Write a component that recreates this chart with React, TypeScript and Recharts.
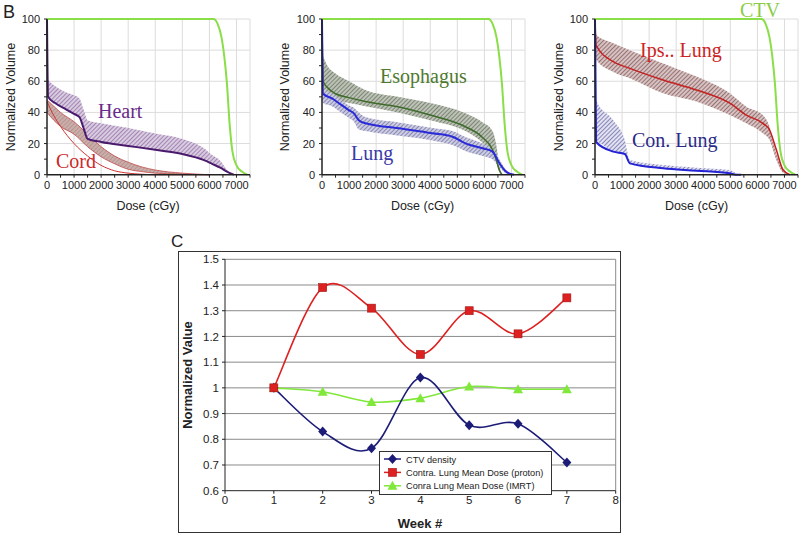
import React from 'react';
import {
  ComposedChart, LineChart, Line, Area, XAxis, YAxis, CartesianGrid,
} from 'recharts';

// ---- panel B data (dose in cGy, volume in %) ----
const ctvDose = [0, 6150, 6300, 6450, 6550, 6650, 6750, 6850, 7000, 7200, 7400];
const ctvVolume = [100, 100, 97, 88, 76, 58, 32, 15, 6, 2, 0];

const heartDose = [0, 40, 300, 700, 1000, 1200, 1350, 1500, 2000, 3000, 4000, 5000, 5800, 6100, 6400, 6700, 6900];
const heartMedian = [100, 50, 46, 42, 39, 37, 30, 23, 21, 18.5, 16, 13.3, 9.4, 7, 4.5, 1.5, 0];
const heartUpper = [62, 61, 57, 53, 51, 49, 42, 35, 33, 30, 26.5, 23, 17, 12.6, 9, 2, 0];
const heartLower = [50, 50, 46, 42, 39, 37, 30, 23, 21, 18.5, 16, 13.3, 9.4, 7, 4.5, 1.5, 0];

const cordDose = [0, 250, 500, 1000, 1500, 2000, 2500, 3000, 3500, 4000, 5000, 6000];
const cordUpper = [48, 44, 40, 34, 26, 18, 12, 8, 5, 3, 1, 0];
const cordLower = [40, 35, 31, 26, 18, 11.5, 7, 3.5, 2, 1, 0.3, 0];
const cordLine = [47, 38, 31, 20, 12, 6, 2.5, 1, 0.3, 0, 0, 0];

const esoDose = [0, 40, 200, 500, 1000, 1600, 2800, 4000, 5300, 5900, 6300, 6450, 6550, 6650];
const esoMedian = [100, 60, 56, 52, 49.5, 47, 43.7, 38.3, 30.8, 24.4, 16, 9, 3, 0];
const esoUpper = [78, 76, 70, 65, 60, 54.4, 50, 46, 39.4, 34, 28, 18, 6, 0];
const esoLower = [54, 54, 51, 48, 46, 44, 40, 35, 28, 21, 13, 7, 2, 0];

const lungDose = [0, 40, 370, 700, 990, 1180, 1360, 1610, 2840, 4080, 4820, 5320, 5930, 6300, 6550, 6800, 7100];
const lungMedian = [100, 52, 49, 45, 41.5, 39.4, 35, 33, 29.8, 26.6, 24.4, 20, 17, 14.8, 7.5, 2, 0];
const lungUpper = [58, 56, 52, 48, 44.5, 43, 40, 37, 33.5, 30, 28, 24, 20, 17, 10, 3, 0];
const lungLower = [48, 46, 44, 40, 36.5, 34, 29, 28, 25, 22, 19, 15, 12, 10, 5, 1, 0];

const ipsDose = [0, 40, 675, 1290, 2520, 3750, 4980, 5590, 6200, 6450, 6700, 6950, 7200];
const ipsMedian = [100, 83, 72.6, 68.3, 60.8, 54.4, 45.9, 38.3, 33, 28.7, 16, 3, 0];
const ipsUpper = [91, 90, 84.4, 80, 71.5, 63, 52.3, 43.7, 38.3, 30.8, 13.8, 4, 0];
const ipsLower = [75, 74, 66, 62, 52.3, 47, 38.3, 33, 26.6, 22.3, 9.4, 1.3, 0];

const conDose = [0, 40, 675, 1100, 1290, 2520, 3750, 4980, 5200, 5400];
const conMedian = [100, 21, 14.8, 13.3, 7.3, 4.1, 2.6, 0.9, 0, 0];
const conUpper = [50, 48, 35, 22.3, 9.4, 6.2, 4.5, 3, 1, 0];
const conLower = [21, 21, 14.8, 13.3, 7.3, 4.1, 2.6, 0.9, 0, 0];

const doseTicks = [0, 500, 1000, 1500, 2000, 2500, 3000, 3500, 4000, 4500, 5000, 5500, 6000, 6500, 7000, 7500];
const volumeTicks = [0, 10, 20, 30, 40, 50, 60, 70, 80, 90, 100];

// ---- panel C data ----
const weeks = [1, 2, 3, 4, 5, 6, 7];
const ctvDensity = [1, 0.83, 0.765, 1.04, 0.855, 0.86, 0.71];
const protonDose = [1, 1.39, 1.31, 1.13, 1.3, 1.21, 1.35];
const imrtDose = [1, 0.985, 0.945, 0.96, 1.005, 0.995, 0.995];
const weekTicks = [0, 1, 2, 3, 4, 5, 6, 7, 8];
const valueTicks = [0.6, 0.7, 0.8, 0.9, 1.0, 1.1, 1.2, 1.3, 1.4, 1.5];

const SANS = '"Liberation Sans", Arial, sans-serif';
const SERIF = '"Liberation Serif", "Times New Roman", serif';

const line = (dose: number[], v: number[]) => dose.map((d, i) => ({ dose: d, v: v[i] }));
const band = (dose: number[], lo: number[], hi: number[]) =>
  dose.map((d, i) => ({ dose: d, range: [lo[i], hi[i]] }));

const weekData = weeks.map((w, i) => ({
  week: w, ctv: ctvDensity[i], proton: protonDose[i], imrt: imrtDose[i],
}));

// Excel-like smoothing (Catmull-Rom through the points)
const smooth: any = (context: any) => {
  let pts: number[][] = [];
  return {
    areaStart() {}, areaEnd() {},
    lineStart() { pts = []; },
    point(x: number, y: number) { pts.push([+x, +y]); },
    lineEnd() {
      if (!pts.length) return;
      context.moveTo(pts[0][0], pts[0][1]);
      for (let i = 0; i < pts.length - 1; i++) {
        const p0 = pts[i - 1] || pts[i];
        const p1 = pts[i];
        const p2 = pts[i + 1];
        const p3 = pts[i + 2] || p2;
        context.bezierCurveTo(
          p1[0] + (p2[0] - p0[0]) / 6, p1[1] + (p2[1] - p0[1]) / 6,
          p2[0] - (p3[0] - p1[0]) / 6, p2[1] - (p3[1] - p1[1]) / 6,
          p2[0], p2[1],
        );
      }
    },
  };
};

const volTick = (p: any) =>
  p.payload.value % 20 === 0 ? (
    <text x={p.x} y={p.y} dy={4} textAnchor="end" fontSize={11} fontFamily={SANS} fill="#222">
      {p.payload.value}
    </text>
  ) : <g />;

const doseTick = (p: any) =>
  p.payload.value % 1000 === 0 ? (
    <text x={p.x} y={p.y} dy={9} textAnchor="middle" fontSize={11} fontFamily={SANS} fill="#222">
      {p.payload.value}
    </text>
  ) : <g />;

const Diamond = ({ cx, cy }: any) => (
  <polygon points={`${cx},${cy - 5} ${cx + 4.5},${cy} ${cx},${cy + 5} ${cx - 4.5},${cy}`} fill="#1c1c78" />
);
const Square = ({ cx, cy }: any) => (
  <rect x={cx - 4} y={cy - 4} width={8} height={8} fill="#dd2020" stroke="#a01818" strokeWidth={0.6} />
);
const Triangle = ({ cx, cy }: any) => (
  <polygon points={`${cx},${cy - 5} ${cx + 5},${cy + 4} ${cx - 5},${cy + 4}`} fill="#7fe83a" />
);

const DvhPanel = ({ left, children }: { left: number; children: React.ReactNode }) => (
  <div style={{ position: 'absolute', left, top: 0 }}>
    <ComposedChart width={250} height={215} margin={{ top: 19, right: 2, bottom: 16.3, left: 0 }}>
      <CartesianGrid
        stroke="#dcdcdc"
        horizontalValues={[20, 40, 60, 80, 100]}
        verticalValues={[1000, 2000, 3000, 4000, 5000, 6000, 7000, 7500]}
      />
      <XAxis
        dataKey="dose" type="number" domain={[0, 7500]} ticks={doseTicks} interval={0}
        height={24} tickSize={3} tickMargin={2} tick={doseTick}
        axisLine={{ stroke: '#222', strokeWidth: 1.5 }} tickLine={{ stroke: '#222' }}
      />
      <YAxis
        type="number" domain={[0, 100]} ticks={volumeTicks} interval={0}
        width={45} tickSize={3} tickMargin={4} tick={volTick}
        axisLine={{ stroke: '#222', strokeWidth: 1.5 }} tickLine={{ stroke: '#222' }}
      />
      {children}
    </ComposedChart>
  </div>
);

const rangeArea = (key: string, data: any[], pattern: string, stroke = 'none', sw = 0) => (
  <Area
    key={key} data={data} dataKey="range" type="monotone" fill={`url(#${pattern})`}
    fillOpacity={1} stroke={stroke} strokeWidth={sw} isAnimationActive={false} dot={false} activeDot={false}
  />
);
const curve = (key: string, data: any[], color: string, width: number) => (
  <Line
    key={key} data={data} dataKey="v" type="monotone" stroke={color} strokeWidth={width}
    dot={false} activeDot={false} isAnimationActive={false}
  />
);

const legendItems = [
  { label: 'CTV density', color: '#1c1c78', Marker: Diamond },
  { label: 'Contra. Lung Mean Dose (proton)', color: '#dd2020', Marker: Square },
  { label: 'Conra Lung Mean Dose (IMRT)', color: '#7fe83a', Marker: Triangle },
];

const WeekLegend = () => (
  <div style={{ position: 'absolute', left: 379, top: 451, width: 173, height: 44, border: '1px solid #333', background: '#fff', boxSizing: 'border-box' }}>
    <svg width={171} height={42} style={{ display: 'block' }}>
      {legendItems.map((it, i) => {
        const y = 7 + i * 13.4;
        return (
          <g key={it.label}>
            <line x1={4} x2={21} y1={y} y2={y} stroke={it.color} strokeWidth={1.5} />
            <it.Marker cx={12.5} cy={y} />
            <text x={26} y={y + 3.5} fontSize={9.2} fontFamily={SANS} fill="#222">{it.label}</text>
          </g>
        );
      })}
    </svg>
  </div>
);

const hatch = (id: string, bg: string, fg: string) => (
  <pattern key={id} id={id} patternUnits="userSpaceOnUse" width={3} height={3} patternTransform="rotate(45)">
    <rect width={3} height={3} fill={bg} />
    <line x1={0} y1={0} x2={0} y2={3} stroke={fg} strokeWidth={1.3} />
  </pattern>
);

export default function App() {
  const ctv = line(ctvDose, ctvVolume);
  return (
    <div style={{ position: 'absolute', left: 0, top: 0, width: 800, height: 535, background: '#fff', overflow: 'hidden' }}>
      <svg width={0} height={0} style={{ position: 'absolute' }}>
        <defs>
          {hatch('heartHatch', '#d8cce0', '#8a5c9c')}
          {hatch('cordHatch', '#cbaeaa', '#aa8884')}
          {hatch('esoHatch', '#bcc2b6', '#5a6652')}
          {hatch('lungHatch', '#cccce2', '#66669a')}
          {hatch('ipsHatch', '#d6c2c2', '#784848')}
          {hatch('conHatch', '#e2e2f2', '#565698')}
        </defs>
      </svg>

      <DvhPanel left={1.7}>
        {rangeArea('cordBand', band(cordDose, cordLower, cordUpper), 'cordHatch', '#c04848', 0.8)}
        {curve('cordLine', line(cordDose, cordLine), '#cc3333', 1)}
        {rangeArea('heartBand', band(heartDose, heartLower, heartUpper), 'heartHatch')}
        {curve('heartMedian', line(heartDose, heartMedian), '#4a1a6c', 2)}
        {curve('ctv', ctv, '#8ade48', 2)}
      </DvhPanel>

      <DvhPanel left={276.7}>
        {rangeArea('esoBand', band(esoDose, esoLower, esoUpper), 'esoHatch')}
        {curve('esoMedian', line(esoDose, esoMedian), '#3e6a2c', 1.5)}
        {rangeArea('lungBand', band(lungDose, lungLower, lungUpper), 'lungHatch')}
        {curve('lungMedian', line(lungDose, lungMedian), '#2a2ad8', 2)}
        {curve('ctv', ctv, '#8ade48', 2)}
      </DvhPanel>

      <DvhPanel left={550}>
        {rangeArea('ipsBand', band(ipsDose, ipsLower, ipsUpper), 'ipsHatch')}
        {curve('ipsMedian', line(ipsDose, ipsMedian), '#c42020', 1.5)}
        {rangeArea('conBand', band(conDose, conLower, conUpper), 'conHatch')}
        {curve('conMedian', line(conDose, conMedian), '#2424d4', 2)}
        {curve('ctv', ctv, '#8ade48', 2)}
      </DvhPanel>

      <div style={{ position: 'absolute', left: 178, top: 251, width: 443, height: 282, border: '1px solid #333', boxSizing: 'border-box' }} />
      <div style={{ position: 'absolute', left: 178, top: 251 }}>
        <LineChart width={443} height={282} data={weekData} margin={{ top: 8.3, right: 5.3, bottom: 0, left: 0 }}>
          <CartesianGrid stroke="#8a8a8a" horizontalValues={valueTicks.slice(1)} verticalValues={[8]} />
          <XAxis
            dataKey="week" type="number" domain={[0, 8]} ticks={weekTicks} interval={0} height={42.3}
            tickSize={3} tickMargin={2} tick={{ fontSize: 11.5, fontFamily: SANS, fill: '#222' }}
            axisLine={{ stroke: '#222' }} tickLine={{ stroke: '#222' }}
          />
          <YAxis
            type="number" domain={[0.6, 1.5]} ticks={valueTicks} interval={0} width={47}
            tickSize={3} tickMargin={3} tickFormatter={(v: number) => String(Number(v.toFixed(1)))}
            tick={{ fontSize: 11.5, fontFamily: SANS, fill: '#222' }}
            axisLine={{ stroke: '#222' }} tickLine={{ stroke: '#222' }}
          />
          <Line dataKey="imrt" type={smooth} stroke="#7fe83a" strokeWidth={1.6} isAnimationActive={false}
            dot={(p: any) => <Triangle key={`t${p.index}`} cx={p.cx} cy={p.cy} />} activeDot={false} />
          <Line dataKey="ctv" type={smooth} stroke="#1c1c78" strokeWidth={1.6} isAnimationActive={false}
            dot={(p: any) => <Diamond key={`d${p.index}`} cx={p.cx} cy={p.cy} />} activeDot={false} />
          <Line dataKey="proton" type={smooth} stroke="#dd2020" strokeWidth={1.6} isAnimationActive={false}
            dot={(p: any) => <Square key={`s${p.index}`} cx={p.cx} cy={p.cy} />} activeDot={false} />
        </LineChart>
      </div>
      <WeekLegend />

      <svg width={800} height={535} style={{ position: 'absolute', left: 0, top: 0, pointerEvents: 'none' }}>
        <text x={3} y={18} fontSize={18} fontFamily={SANS} fill="#222">B</text>
        <text x={171} y={247} fontSize={17} fontFamily={SANS} fill="#222">C</text>

        {[11, 285, 559].map((x) => (
          <text key={`yl${x}`} x={x} y={97} transform={`rotate(-90 ${x} 97)`} textAnchor="middle"
            dominantBaseline="central" fontSize={12.5} fontFamily={SANS} fill="#222">Normalized Volume</text>
        ))}
        {[148, 422.5, 696.5].map((x) => (
          <text key={`xl${x}`} x={x} y={210} textAnchor="middle" fontSize={12.5} fontFamily={SANS} fill="#222">Dose (cGy)</text>
        ))}

        <text x={98} y={118} fontSize={20} fontFamily={SERIF} fill="#6a2a8a">Heart</text>
        <text x={56} y={168} fontSize={20} fontFamily={SERIF} fill="#cc2a2a">Cord</text>
        <text x={380} y={83} fontSize={20} fontFamily={SERIF} fill="#4e7a30">Esophagus</text>
        <text x={351} y={160} fontSize={20} fontFamily={SERIF} fill="#3a3aa8">Lung</text>
        <text x={740} y={17} fontSize={20} fontFamily={SERIF} fill="#8acc48">CTV</text>
        <text x={640} y={57} fontSize={20} fontFamily={SERIF} fill="#cc2424">Ips.. Lung</text>
        <text x={632} y={147} fontSize={20} fontFamily={SERIF} fill="#2a2a88">Con. Lung</text>

        <text x={187} y={375} transform="rotate(-90 187 375)" textAnchor="middle" dominantBaseline="central"
          fontSize={13} fontWeight="bold" fontFamily={SANS} fill="#222">Normalized Value</text>
        <text x={420} y={528} textAnchor="middle" fontSize={13} fontWeight="bold" fontFamily={SANS} fill="#222">Week #</text>
      </svg>
    </div>
  );
}
